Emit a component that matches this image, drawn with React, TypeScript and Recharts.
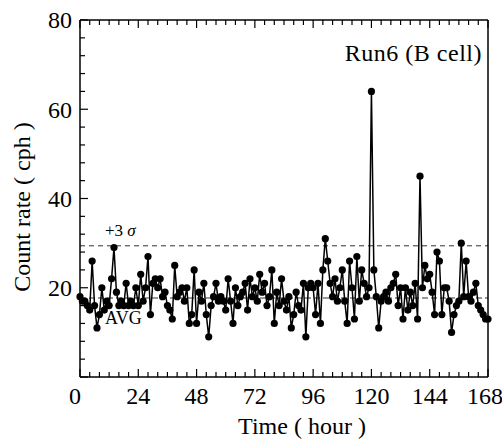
import { LineChart, Line, XAxis, YAxis, ReferenceLine } from 'recharts';

// hourly count rate (cph), hour 0..168
const counts = [
  18, 17, 17, 16, 15, 26, 16, 11, 14, 20, 15, 17, 16, 22, 29, 19, 16, 17, 16, 21,
  16, 17, 16, 20, 16, 23, 17, 20, 27, 14, 21, 22, 20, 22, 18, 19, 16, 15, 13, 25,
  18, 19, 20, 17, 20, 12, 14, 24, 12, 19, 17, 21, 14, 9, 16, 18, 21, 17, 18, 17,
  15, 22, 17, 12, 20, 16, 18, 19, 21, 15, 22, 18, 20, 17, 23, 19, 21, 16, 18, 24,
  12, 19, 16, 22, 17, 15, 18, 11, 14, 19, 16, 15, 21, 9, 20, 21, 20, 14, 21, 12,
  24, 31, 26, 21, 18, 22, 17, 20, 24, 17, 12, 26, 20, 13, 27, 17, 24, 21, 18, 20,
  64, 24, 18, 11, 17, 18, 19, 17, 20, 21, 23, 16, 20, 13, 20, 15, 19, 16, 21, 13,
  45, 20, 25, 22, 23, 19, 14, 28, 26, 14, 20, 20, 17, 10, 14, 16, 17, 30, 18, 26,
  18, 17, 19, 21, 16, 15, 14, 13, 13,
];

const avgLevel = 17.7;
const sigma3Level = 29.4;

const xTicks = [
  0, 4, 8, 12, 16, 20, 24, 28, 32, 36, 40, 44, 48, 52, 56, 60, 64, 68, 72, 76, 80, 84,
  88, 92, 96, 100, 104, 108, 112, 116, 120, 124, 128, 132, 136, 140, 144, 148, 152, 156,
  160, 164, 168,
];
const xLabels = [0, 24, 48, 72, 96, 120, 144, 168];
const yTicks = [0, 4, 8, 12, 16, 20, 24, 28, 32, 36, 40, 44, 48, 52, 56, 60, 64, 68, 72, 76, 80];
const yLabels = [20, 40, 60, 80];

const data = counts.map((c, i) => ({ hour: i, count: c }));

const FONT = '"Liberation Serif", "Times New Roman", serif';

const BottomTick = ({ x, y, payload }: any) => {
  const v = payload.value;
  const major = xLabels.includes(v);
  const dx = v === 0 ? -5 : v === 168 ? -3 : 0;
  return (
    <g>
      <line x1={x} x2={x} y1={y} y2={y - (major ? 8 : 5)} stroke="#000" strokeWidth={1.2} />
      {major && (
        <text x={x + dx} y={y + 27} textAnchor="middle" fontSize={24} fontFamily={FONT} fill="#000">
          {v}
        </text>
      )}
    </g>
  );
};

const TopTick = ({ x, y, payload }: any) => {
  const major = xLabels.includes(payload.value);
  return <line x1={x} x2={x} y1={y} y2={y + (major ? 8 : 5)} stroke="#000" strokeWidth={1.2} />;
};

const LeftTick = ({ x, y, payload }: any) => {
  const v = payload.value;
  const major = v % 20 === 0;
  return (
    <g>
      <line x1={x} x2={x + (major ? 8 : 5)} y1={y} y2={y} stroke="#000" strokeWidth={1.2} />
      {yLabels.includes(v) && (
        <text x={x - 8} y={y} dy="0.35em" textAnchor="end" fontSize={24} fontFamily={FONT} fill="#000">
          {v}
        </text>
      )}
    </g>
  );
};

const RightTick = ({ x, y, payload }: any) => {
  const major = payload.value % 20 === 0;
  return <line x1={x} x2={x - (major ? 8 : 5)} y1={y} y2={y} stroke="#000" strokeWidth={1.2} />;
};

export default function App() {
  return (
    <div style={{ position: 'absolute', left: 0, top: 0, background: '#fff' }}>
      <LineChart width={502} height={442} data={data} margin={{ top: 19, right: 13, bottom: 35, left: 10 }}>
        <XAxis
          dataKey="hour"
          type="number"
          domain={[0, 168]}
          ticks={xTicks}
          interval={0}
          tick={<BottomTick />}
          tickLine={false}
          tickSize={0}
          tickMargin={0}
          height={30}
          axisLine={{ stroke: '#000', strokeWidth: 1.5 }}
          label={() => (
            <text x={302} y={434} textAnchor="middle" fontSize={24} fontFamily={FONT} fill="#000">
              Time ( hour )
            </text>
          )}
        />
        <XAxis
          xAxisId="top"
          orientation="top"
          dataKey="hour"
          type="number"
          domain={[0, 168]}
          ticks={xTicks}
          interval={0}
          tick={<TopTick />}
          tickLine={false}
          tickSize={0}
          tickMargin={0}
          height={1}
          axisLine={{ stroke: '#000', strokeWidth: 1.5 }}
          label={() => (
            <text x={482} y={61} textAnchor="end" fontSize={24} letterSpacing={0.5} fontFamily={FONT} fill="#000">
              Run6 (B cell)
            </text>
          )}
        />
        <YAxis
          type="number"
          domain={[0, 80]}
          ticks={yTicks}
          interval={0}
          tick={<LeftTick />}
          tickLine={false}
          tickSize={0}
          tickMargin={0}
          width={70}
          axisLine={{ stroke: '#000', strokeWidth: 1.5 }}
          label={() => (
            <text transform="translate(30,207) rotate(-90)" textAnchor="middle" fontSize={24} fontFamily={FONT} fill="#000">
              Count rate ( cph )
            </text>
          )}
        />
        <YAxis
          yAxisId="right"
          orientation="right"
          type="number"
          domain={[0, 80]}
          ticks={yTicks}
          interval={0}
          tick={<RightTick />}
          tickLine={false}
          tickSize={0}
          tickMargin={0}
          width={1}
          axisLine={{ stroke: '#000', strokeWidth: 1.5 }}
        />
        <ReferenceLine
          y={sigma3Level}
          stroke="#333"
          strokeWidth={1}
          strokeDasharray="5 4"
          label={(p: any) => (
            <text x={p.viewBox.x + 25} y={p.viewBox.y - 10} fontSize={17} fontFamily={FONT} fill="#000">
              +3 <tspan fontStyle="italic">σ</tspan>
            </text>
          )}
        />
        <ReferenceLine
          y={avgLevel}
          stroke="#333"
          strokeWidth={1}
          strokeDasharray="6 3"
          label={(p: any) => (
            <text x={p.viewBox.x + 25} y={p.viewBox.y + 26} fontSize={18} fontFamily={FONT} fill="#000">
              AVG
            </text>
          )}
        />
        <Line
          dataKey="count"
          stroke="#000"
          strokeWidth={1.5}
          dot={{ r: 3.6, fill: '#000', stroke: 'none' }}
          isAnimationActive={false}
        />
      </LineChart>
    </div>
  );
}
